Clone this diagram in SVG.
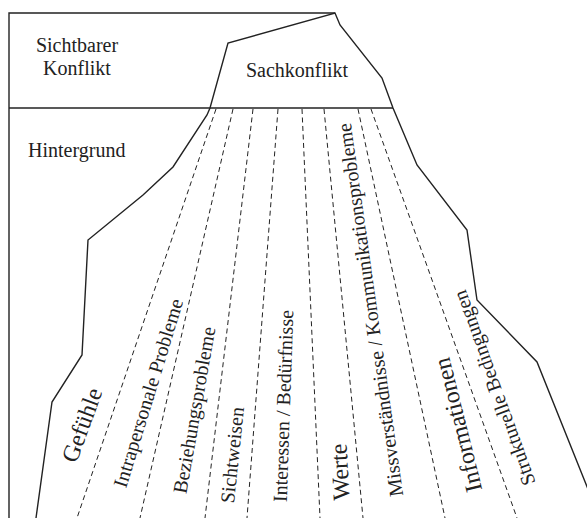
<svg xmlns="http://www.w3.org/2000/svg" width="587" height="518" viewBox="0 0 587 518">
<style>
.solid{fill:none;stroke:#222;stroke-width:1.4;stroke-linejoin:miter}
.dash{fill:none;stroke:#222;stroke-width:1;stroke-dasharray:5 3.5}
text{font-family:"Liberation Serif","DejaVu Serif",serif;fill:#222;font-size:20px}
.big{font-size:24px}
.lbl{text-anchor:middle}
</style>
<rect width="587" height="518" fill="#fff"/>
<g id="frame">
<polyline class="solid" points="9,518 9,13 335,13"/>
<line class="solid" x1="9" y1="108" x2="393" y2="108"/>
</g>
<g id="iceberg">
<polyline class="solid" points="36,518 52,402 82,355 88,240 143,195 173,167 207,115 210,108 228,43 335,13 340,25 382,78 393,108 417,165 467,230 477,300 537,362 590,494"/>
</g>
<g id="connectors">
<line class="dash" x1="216" y1="109" x2="77" y2="518"/>
<line class="dash" x1="233" y1="109" x2="140" y2="518"/>
<line class="dash" x1="253" y1="109" x2="205" y2="518"/>
<line class="dash" x1="278" y1="109" x2="247" y2="518"/>
<line class="dash" x1="302" y1="109" x2="320" y2="518"/>
<line class="dash" x1="324" y1="109" x2="363" y2="518"/>
<line class="dash" x1="358" y1="109" x2="445" y2="518"/>
<line class="dash" x1="371" y1="109" x2="517" y2="518"/>
</g>
<g id="sichtbarer-konflikt">
<text class="lbl" x="77" y="52">Sichtbarer</text>
<text class="lbl" x="77" y="75">Konflikt</text>
</g>
<g id="sachkonflikt"><text class="lbl" x="297" y="77">Sachkonflikt</text></g>
<g id="hintergrund"><text x="28" y="157">Hintergrund</text></g>
<g id="gefuehle"><text class="lbl big" transform="translate(82,425) rotate(-70)" y="8">Gefühle</text></g>
<g id="intrapersonale"><text class="lbl" transform="translate(148,393) rotate(-73)" y="7">Intrapersonale Probleme</text></g>
<g id="beziehung"><text class="lbl" transform="translate(194,410) rotate(-80)" y="7">Beziehungsprobleme</text></g>
<g id="sichtweisen"><text class="lbl" transform="translate(232,455) rotate(-84)" y="7">Sichtweisen</text></g>
<g id="interessen"><text class="lbl" transform="translate(283,406) rotate(-88)" y="7">Interessen / Bedürfnisse</text></g>
<g id="werte"><text class="lbl big" transform="translate(340,472) rotate(-93)" y="8">Werte</text></g>
<g id="missverstaendnisse"><text class="lbl" transform="translate(370,310) rotate(-98)" y="7">Missverständnisse / Kommunikationsprobleme</text></g>
<g id="informationen"><text class="lbl big" transform="translate(458,425) rotate(-104)" y="8">Informationen</text></g>
<g id="strukturelle"><text class="lbl" transform="translate(494,388) rotate(-110)" y="7">Strukturelle Bedingungen</text></g>
</svg>
